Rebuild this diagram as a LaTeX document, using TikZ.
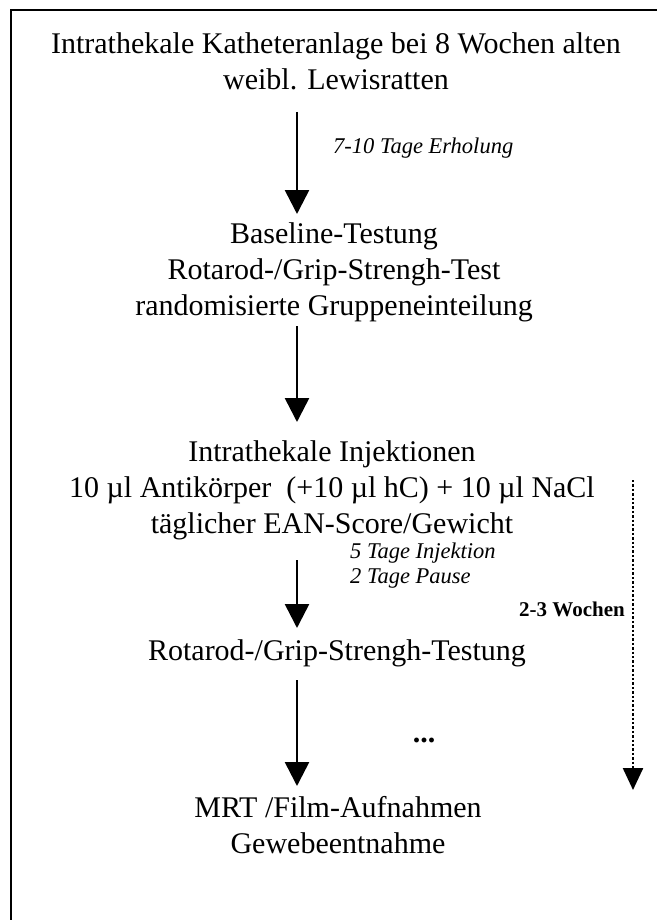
\documentclass[tikz,border=0pt]{standalone}
\usepackage{fontspec}
\setmainfont{Liberation Serif}
\usetikzlibrary{arrows.meta}
\begin{document}
\begin{tikzpicture}[x=1pt,y=-1pt,
  txt/.style={inner sep=0pt,align=center,font=\fontsize{30}{36}\selectfont},
  lbl/.style={inner sep=0pt,align=left,anchor=west,font=\fontsize{22.5}{25}\selectfont\itshape},
  flow/.style={line width=2.6pt,-{Triangle[width=24pt,length=24pt]}},
  span/.style={line width=2.4pt,dotted,-{Triangle[width=20pt,length=22pt]}}]
\useasboundingbox (0,0) rectangle (656,920);
\fill[white] (0,0) rectangle (656,920);
\draw[line width=2.2pt] (11,930) -- (11,10) -- (670,10);
\node[txt] (n1) at (336,61) {Intrathekale Katheteranlage bei 8 Wochen alten\\weibl. Lewisratten};
\node[txt] (n2) at (334,272) {Baseline-Testung\\Rotarod-/Grip-Strengh-Test\\randomisierte Gruppeneinteilung};
\node[txt] (n3) at (332,490) {Intrathekale Injektionen\\10 µl Antikörper\ \ (+10 µl hC) + 10 µl NaCl\\täglicher EAN-Score/Gewicht};
\node[txt] (n4) at (337,653) {Rotarod-/Grip-Strengh-Testung};
\node[txt] (n5) at (338,825) {MRT /Film-Aufnahmen\\Gewebeentnahme};
\coordinate (a1s) at (297,112); \coordinate (a1e) at (297,214);
\coordinate (a2s) at (297,326); \coordinate (a2e) at (297,422);
\coordinate (a3s) at (297,560); \coordinate (a3e) at (297,628);
\coordinate (a4s) at (297,680); \coordinate (a4e) at (297,786);
\coordinate (ds) at (633,480); \coordinate (de) at (633,790);
\draw[flow] (a1s) -- (a1e);
\draw[flow] (a2s) -- (a2e);
\draw[flow] (a3s) -- (a3e);
\draw[flow] (a4s) -- (a4e);
\draw[span] (ds) -- (de);
\node[lbl] (l1) at (333,148) {7-10 Tage Erholung};
\node[lbl] (l2) at (350,566) {5 Tage Injektion\\2 Tage Pause};
\node[inner sep=0pt,anchor=east,font=\fontsize{21}{24}\selectfont\bfseries] (l3) at (625,609) {2-3 Wochen};
\node[inner sep=0pt,font=\fontsize{30}{30}\selectfont\bfseries] (dots) at (424,740) {...};
\end{tikzpicture}
\end{document}
